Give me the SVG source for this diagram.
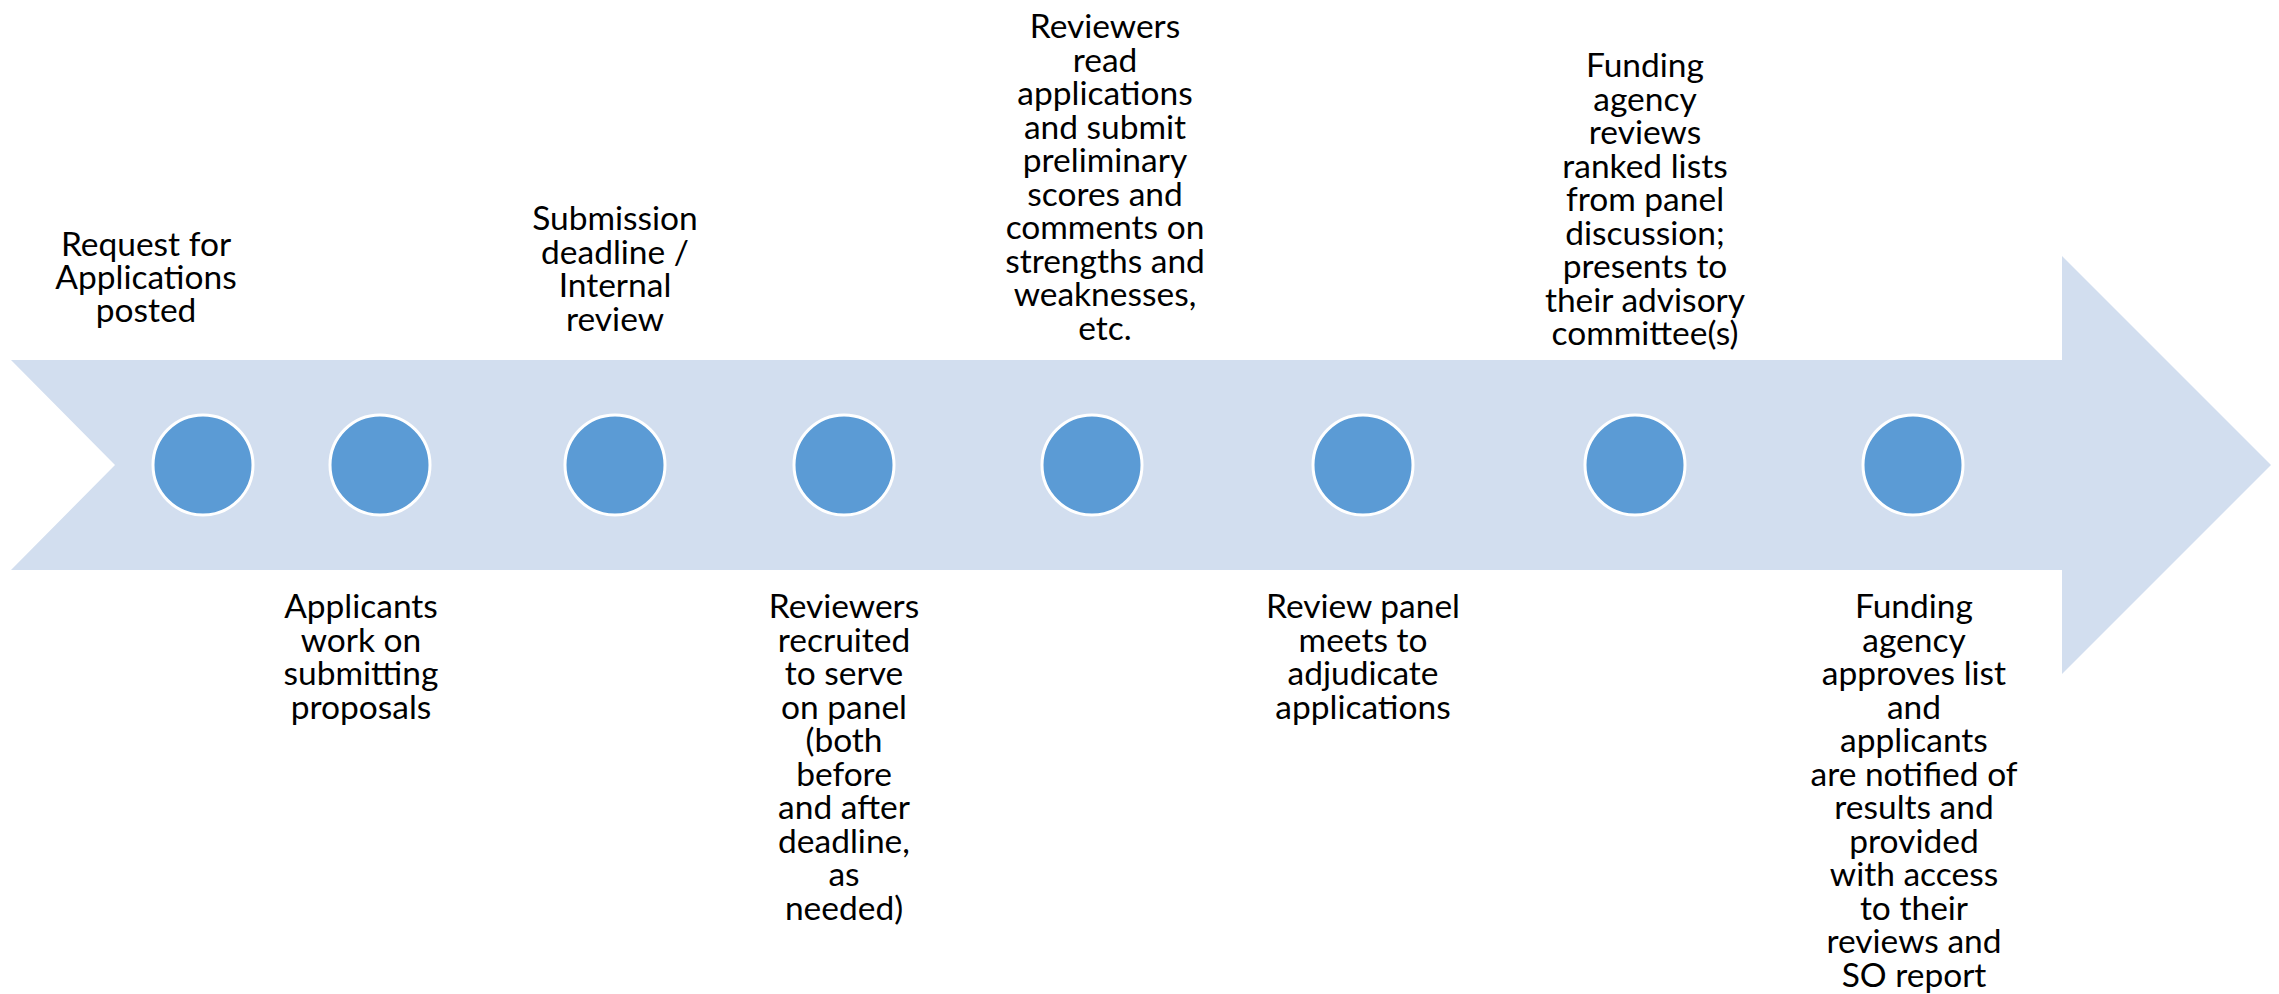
<svg xmlns="http://www.w3.org/2000/svg" width="2279" height="994" viewBox="0 0 2279 994">
<style>
.lbl{font-family:Lato,"Liberation Sans",sans-serif;font-size:33.5px;fill:#000;text-anchor:middle}
.dot{fill:#5B9BD5;stroke:#FFFFFF;stroke-width:3}
</style>
<rect width="2279" height="994" fill="#FFFFFF"/>
<g id="arrow">
<polygon points="11,360 2062,360 2062,256 2271,465 2062,674 2062,570 11,570 115,465" fill="#D2DEEF"/>
</g>
<g id="connectors"></g>
<g id="n1"><circle class="dot" cx="203" cy="465" r="50"/>
<text class="lbl"><tspan x="146" y="256">Request for</tspan><tspan x="146" y="289">Applications</tspan><tspan x="146" y="322">posted</tspan></text></g>
<g id="n2"><circle class="dot" cx="380" cy="465" r="50"/>
<text class="lbl"><tspan x="361" y="618">Applicants</tspan><tspan x="361" y="651.5">work on</tspan><tspan x="361" y="685">submitting</tspan><tspan x="361" y="718.5">proposals</tspan></text></g>
<g id="n3"><circle class="dot" cx="615" cy="465" r="50"/>
<text class="lbl"><tspan x="615" y="230">Submission</tspan><tspan x="615" y="263.5">deadline /</tspan><tspan x="615" y="297">Internal</tspan><tspan x="615" y="330.5">review</tspan></text></g>
<g id="n4"><circle class="dot" cx="844" cy="465" r="50"/>
<text class="lbl"><tspan x="844" y="618">Reviewers</tspan><tspan x="844" y="651.5">recruited</tspan><tspan x="844" y="685">to serve</tspan><tspan x="844" y="718.5">on panel</tspan><tspan x="844" y="752">(both</tspan><tspan x="844" y="785.5">before</tspan><tspan x="844" y="819">and after</tspan><tspan x="844" y="852.5">deadline,</tspan><tspan x="844" y="886">as</tspan><tspan x="844" y="919.5">needed)</tspan></text></g>
<g id="n5"><circle class="dot" cx="1092" cy="465" r="50"/>
<text class="lbl"><tspan x="1105" y="38">Reviewers</tspan><tspan x="1105" y="71.5">read</tspan><tspan x="1105" y="105">applications</tspan><tspan x="1105" y="138.5">and submit</tspan><tspan x="1105" y="172">preliminary</tspan><tspan x="1105" y="205.5">scores and</tspan><tspan x="1105" y="239">comments on</tspan><tspan x="1105" y="272.5">strengths and</tspan><tspan x="1105" y="306">weaknesses,</tspan><tspan x="1105" y="339.5">etc.</tspan></text></g>
<g id="n6"><circle class="dot" cx="1363" cy="465" r="50"/>
<text class="lbl"><tspan x="1363" y="618">Review panel</tspan><tspan x="1363" y="651.5">meets to</tspan><tspan x="1363" y="685">adjudicate</tspan><tspan x="1363" y="718.5">applications</tspan></text></g>
<g id="n7"><circle class="dot" cx="1635" cy="465" r="50"/>
<text class="lbl"><tspan x="1645" y="77">Funding</tspan><tspan x="1645" y="110.5">agency</tspan><tspan x="1645" y="144">reviews</tspan><tspan x="1645" y="177.5">ranked lists</tspan><tspan x="1645" y="211">from panel</tspan><tspan x="1645" y="244.5">discussion;</tspan><tspan x="1645" y="278">presents to</tspan><tspan x="1645" y="311.5">their advisory</tspan><tspan x="1645" y="345">committee(s)</tspan></text></g>
<g id="n8"><circle class="dot" cx="1913" cy="465" r="50"/>
<text class="lbl"><tspan x="1914" y="618">Funding</tspan><tspan x="1914" y="651.5">agency</tspan><tspan x="1914" y="685">approves list</tspan><tspan x="1914" y="718.5">and</tspan><tspan x="1914" y="752">applicants</tspan><tspan x="1914" y="785.5">are notified of</tspan><tspan x="1914" y="819">results and</tspan><tspan x="1914" y="852.5">provided</tspan><tspan x="1914" y="886">with access</tspan><tspan x="1914" y="919.5">to their</tspan><tspan x="1914" y="953">reviews and</tspan><tspan x="1914" y="986.5">SO report</tspan></text></g>
</svg>
